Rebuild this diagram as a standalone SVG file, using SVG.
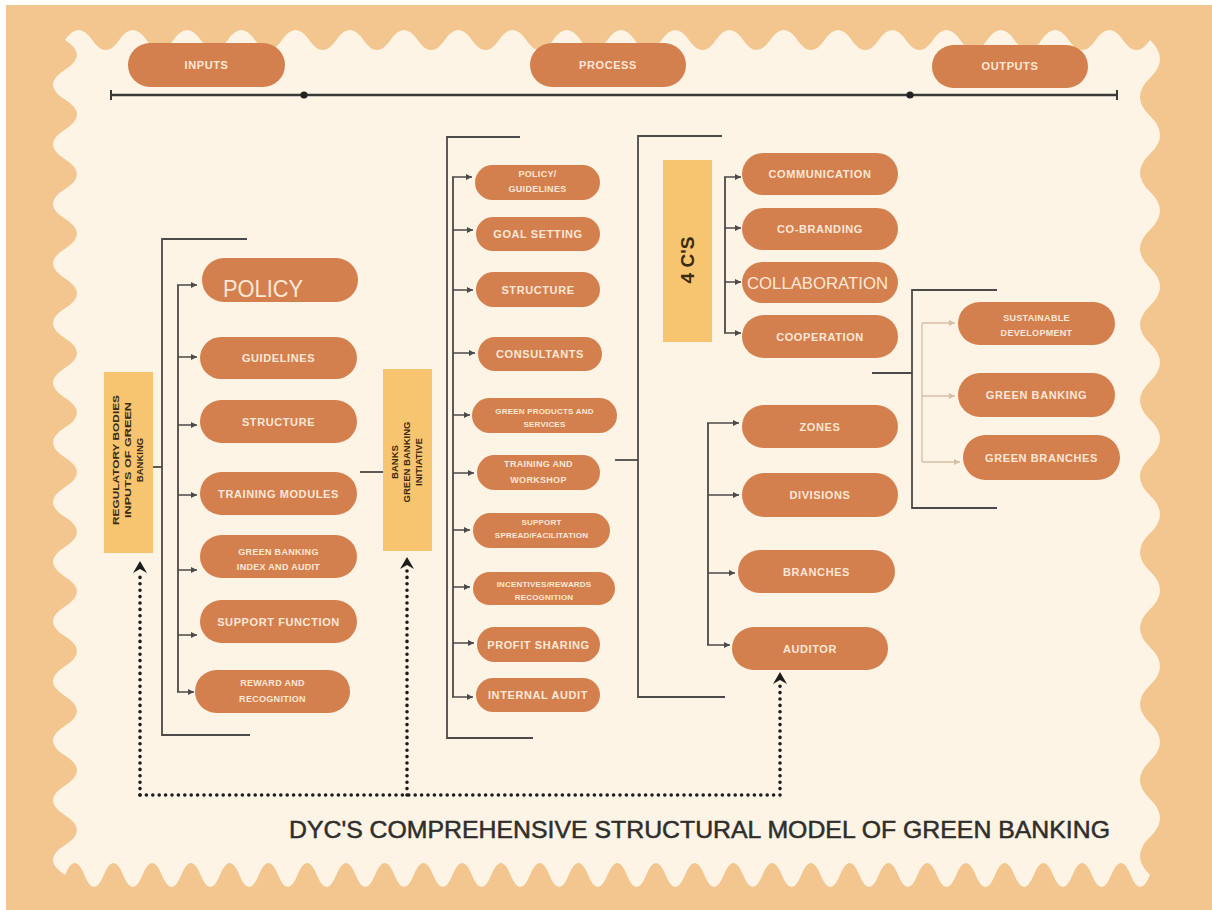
<svg xmlns="http://www.w3.org/2000/svg" width="1212" height="910" viewBox="0 0 1212 910">
  <defs>
    <style>
      .pill{fill:#D3804E}
      .lbl{font-family:"Liberation Sans",Arial,sans-serif;font-weight:bold;fill:#FBE7D6;text-anchor:middle;font-size:11px;letter-spacing:0.6px}
      .sm{font-size:9px;letter-spacing:0.3px}
      .xs{font-size:8px;letter-spacing:0.2px}
      .box{fill:#F7C470}
      .vt{font-family:"Liberation Sans",Arial,sans-serif;font-weight:bold;fill:#3A2A12;text-anchor:middle;font-size:9.5px}
      .big{font-size:19px}
      .conn{stroke:#4A4A48;stroke-width:1.8;fill:none}
      .tick{stroke:#4A4A48;stroke-width:1.5;fill:none;marker-end:url(#tip)}
      .faint{stroke:#D8BFA6;stroke-width:1.3;fill:none}
      .ftick{stroke:#D8BFA6;stroke-width:1.3;fill:none;marker-end:url(#ftip)}
      .dots{stroke:#1C1C1C;stroke-width:3.6;stroke-linecap:round;stroke-dasharray:0 6.4;fill:none}
      .head{fill:#1C1C1C}
    </style>
    <marker id="tip" markerUnits="userSpaceOnUse" markerWidth="6" markerHeight="6" refX="6" refY="3" orient="auto">
      <path d="M0,0 L6,3 L0,6 z" fill="#4A4A48"/>
    </marker>
    <marker id="ftip" markerUnits="userSpaceOnUse" markerWidth="6" markerHeight="6" refX="6" refY="3" orient="auto">
      <path d="M0,0 L6,3 L0,6 z" fill="#D8BFA6"/>
    </marker>
  </defs>

  <!-- frame: orange ground with a scalloped cream sheet on top -->
  <rect x="0" y="0" width="1212" height="910" fill="#FFFFFF"/>
  <rect x="6" y="5" width="1206" height="905" fill="#F2C68E"/>
  <path fill="#FDF4E6" d="M65,40
    q13.56,-20 27.125,0 t27.125,0 t27.125,0 t27.125,0 t27.125,0 t27.125,0 t27.125,0 t27.125,0 t27.125,0 t27.125,0
    t27.125,0 t27.125,0 t27.125,0 t27.125,0 t27.125,0 t27.125,0 t27.125,0 t27.125,0 t27.125,0 t27.125,0
    t27.125,0 t27.125,0 t27.125,0 t27.125,0 t27.125,0 t27.125,0 t27.125,0 t27.125,0 t27.125,0 t27.125,0
    t27.125,0 t27.125,0 t27.125,0 t27.125,0 t27.125,0 t27.125,0 t27.125,0 t27.125,0 t27.125,0 t27.125,0
    q20,18.98 0,37.95 t0,37.95 t0,37.95 t0,37.95 t0,37.95 t0,37.95 t0,37.95 t0,37.95 t0,37.95 t0,37.95 t0,37.95
    t0,37.95 t0,37.95 t0,37.95 t0,37.95 t0,37.95 t0,37.95 t0,37.95 t0,37.95 t0,37.95 t0,37.95 t0,37.95
    q-9.69,24 -19.375,0 t-19.375,0 t-19.375,0 t-19.375,0 t-19.375,0 t-19.375,0 t-19.375,0 t-19.375,0
    t-19.375,0 t-19.375,0 t-19.375,0 t-19.375,0 t-19.375,0 t-19.375,0 t-19.375,0 t-19.375,0
    t-19.375,0 t-19.375,0 t-19.375,0 t-19.375,0 t-19.375,0 t-19.375,0 t-19.375,0 t-19.375,0
    t-19.375,0 t-19.375,0 t-19.375,0 t-19.375,0 t-19.375,0 t-19.375,0 t-19.375,0 t-19.375,0
    t-19.375,0 t-19.375,0 t-19.375,0 t-19.375,0 t-19.375,0 t-19.375,0 t-19.375,0 t-19.375,0
    t-19.375,0 t-19.375,0 t-19.375,0 t-19.375,0 t-19.375,0 t-19.375,0 t-19.375,0 t-19.375,0
    t-19.375,0 t-19.375,0 t-19.375,0 t-19.375,0 t-19.375,0 t-19.375,0 t-19.375,0 t-19.375,0
    q-24,-14.91 0,-29.82 t0,-29.82 t0,-29.82 t0,-29.82 t0,-29.82 t0,-29.82 t0,-29.82
    t0,-29.82 t0,-29.82 t0,-29.82 t0,-29.82 t0,-29.82 t0,-29.82 t0,-29.82
    t0,-29.82 t0,-29.82 t0,-29.82 t0,-29.82 t0,-29.82 t0,-29.82 t0,-29.82
    t0,-29.82 t0,-29.82 t0,-29.82 t0,-29.82 t0,-29.82 t0,-29.82 t0,-29.82 z"/>

  <!-- stage headers and timeline -->
  <g id="inputs"><rect class="pill" x="128" y="43" width="157" height="44" rx="22"/><text class="lbl" x="206.5" y="69">INPUTS</text></g>
  <g id="process"><rect class="pill" x="530" y="43" width="156" height="44" rx="22"/><text class="lbl" x="608" y="69">PROCESS</text></g>
  <g id="outputs"><rect class="pill" x="932" y="45" width="156" height="43" rx="21.5"/><text class="lbl" x="1010" y="70">OUTPUTS</text></g>
  <g id="timeline">
    <line x1="111" y1="95" x2="1117" y2="95" stroke="#3A3A38" stroke-width="2.4"/>
    <line x1="111" y1="90" x2="111" y2="100" stroke="#3A3A38" stroke-width="2"/>
    <line x1="1117" y1="90" x2="1117" y2="100" stroke="#3A3A38" stroke-width="2"/>
    <circle cx="304" cy="95" r="3.6" fill="#222"/>
    <circle cx="910" cy="95" r="3.6" fill="#222"/>
  </g>

  <!-- connectors -->
  <g id="connectors">
    <!-- inputs column -->
    <path class="conn" d="M153,467 H162"/>
    <path class="conn" d="M247,239 H162 V735 H250"/>
    <path class="conn" d="M178,285 V692"/>
    <path class="tick" d="M177,285 H197"/>
    <path class="tick" d="M178,357 H197"/>
    <path class="tick" d="M178,425 H197"/>
    <path class="tick" d="M178,495 H197"/>
    <path class="tick" d="M178,570 H197"/>
    <path class="tick" d="M178,635 H197"/>
    <path class="tick" d="M177,692 H194"/>
    <path class="conn" d="M360,472 H383"/>
    <!-- process column -->
    <path class="conn" d="M520,137 H447 V738 H533"/>
    <path class="conn" d="M453,177 V697"/>
    <path class="tick" d="M452,177 H472"/>
    <path class="tick" d="M453,230 H473"/>
    <path class="tick" d="M453,290 H473"/>
    <path class="tick" d="M453,353 H475"/>
    <path class="tick" d="M453,415 H470"/>
    <path class="tick" d="M453,473 H474"/>
    <path class="tick" d="M453,530 H470"/>
    <path class="tick" d="M453,587 H470"/>
    <path class="tick" d="M453,643 H474"/>
    <path class="tick" d="M452,697 H473"/>
    <path class="conn" d="M615,460 H638"/>
    <!-- 4 C's and delivery network -->
    <path class="conn" d="M722,136 H638 V697 H725"/>
    <path class="conn" d="M725,177 V333"/>
    <path class="tick" d="M724,177 H741"/>
    <path class="tick" d="M725,228 H741"/>
    <path class="tick" d="M725,282 H741"/>
    <path class="tick" d="M724,333 H741"/>
    <path class="conn" d="M708,423 V645"/>
    <path class="tick" d="M707,423 H739"/>
    <path class="tick" d="M708,495 H739"/>
    <path class="tick" d="M708,573 H735"/>
    <path class="tick" d="M707,645 H730"/>
    <!-- outputs -->
    <path class="conn" d="M872,373 H912"/>
    <path class="conn" d="M997,290 H912 V508 H997"/>
    <path class="faint" d="M922,323 V462"/>
    <path class="ftick" d="M922,323 H955"/>
    <path class="ftick" d="M922,396 H955"/>
    <path class="ftick" d="M922,462 H960"/>
    <!-- feedback loop -->
    <path class="dots" d="M140,795 V574"/>
    <path class="dots" d="M407,795 V570"/>
    <path class="dots" d="M780,795 V685"/>
    <path class="dots" d="M140,795 H780"/>
    <path class="head" d="M140,561 L147,573 L140,569 L133,573 z"/>
    <path class="head" d="M407,557 L414,569 L407,565 L400,569 z"/>
    <path class="head" d="M780,672 L787,684 L780,680 L773,684 z"/>
  </g>

  <!-- inputs column -->
  <g id="regulatory-bodies">
    <rect class="box" x="104" y="372" width="49" height="181"/>
    <g transform="translate(128.5,460) rotate(-90)">
      <text class="vt" x="0" y="-10" textLength="130" lengthAdjust="spacingAndGlyphs">REGULATORY BODIES</text>
      <text class="vt" x="0" y="2" textLength="116" lengthAdjust="spacingAndGlyphs">INPUTS OF GREEN</text>
      <text class="vt" x="0" y="14">BANKING</text>
    </g>
  </g>
  <g id="policy"><rect class="pill" x="202" y="258" width="156" height="44" rx="22"/><text x="223" y="297" font-family="Liberation Sans, Arial, sans-serif" font-size="24" fill="#FBE7D6" textLength="80" lengthAdjust="spacingAndGlyphs">POLICY</text></g>
  <g id="guidelines"><rect class="pill" x="200" y="337" width="157" height="42" rx="21"/><text class="lbl" x="278.5" y="362">GUIDELINES</text></g>
  <g id="structure-in"><rect class="pill" x="200" y="400" width="157" height="43" rx="21.5"/><text class="lbl" x="278.5" y="425.5">STRUCTURE</text></g>
  <g id="training-modules"><rect class="pill" x="200" y="472" width="157" height="43" rx="21.5"/><text class="lbl" x="278.5" y="497.5">TRAINING MODULES</text></g>
  <g id="index-audit"><rect class="pill" x="200" y="535" width="157" height="43" rx="21.5"/><text class="lbl sm" x="278.5" y="554.5">GREEN BANKING</text><text class="lbl sm" x="278.5" y="569.5">INDEX AND AUDIT</text></g>
  <g id="support-function"><rect class="pill" x="200" y="600" width="157" height="43" rx="21.5"/><text class="lbl" x="278.5" y="625.5">SUPPORT FUNCTION</text></g>
  <g id="reward-recognition"><rect class="pill" x="195" y="670" width="155" height="43" rx="21.5"/><text class="lbl sm" x="272.5" y="686">REWARD AND</text><text class="lbl sm" x="272.5" y="702">RECOGNITION</text></g>

  <!-- process column -->
  <g id="banks-initiative">
    <rect class="box" x="383" y="369" width="49" height="182"/>
    <g transform="translate(407.5,462) rotate(-90)">
      <text class="vt" x="0" y="-10">BANKS</text>
      <text class="vt" x="0" y="2">GREEN BANKING</text>
      <text class="vt" x="0" y="14">INITIATIVE</text>
    </g>
  </g>
  <g id="policy-guidelines"><rect class="pill" x="475" y="165" width="125" height="35" rx="17.5"/><text class="lbl sm" x="537.5" y="176.5">POLICY/</text><text class="lbl sm" x="537.5" y="192">GUIDELINES</text></g>
  <g id="goal-setting"><rect class="pill" x="476" y="217" width="124" height="34" rx="17"/><text class="lbl" x="538" y="238">GOAL SETTING</text></g>
  <g id="structure-proc"><rect class="pill" x="476" y="272" width="124" height="35" rx="17.5"/><text class="lbl" x="538" y="293.5">STRUCTURE</text></g>
  <g id="consultants"><rect class="pill" x="478" y="337" width="124" height="34" rx="17"/><text class="lbl" x="540" y="358">CONSULTANTS</text></g>
  <g id="green-products"><rect class="pill" x="472" y="398" width="145" height="35" rx="17.5"/><text class="lbl xs" x="544.5" y="414">GREEN PRODUCTS AND</text><text class="lbl xs" x="544.5" y="427">SERVICES</text></g>
  <g id="training-workshop"><rect class="pill" x="477" y="455" width="123" height="35" rx="17.5"/><text class="lbl sm" x="538.5" y="467">TRAINING AND</text><text class="lbl sm" x="538.5" y="483">WORKSHOP</text></g>
  <g id="support-spread"><rect class="pill" x="473" y="513" width="137" height="35" rx="17.5"/><text class="lbl xs" x="541.5" y="525">SUPPORT</text><text class="lbl xs" x="541.5" y="538">SPREAD/FACILITATION</text></g>
  <g id="incentives"><rect class="pill" x="473" y="572" width="142" height="33" rx="16.5"/><text class="lbl xs" x="544" y="587">INCENTIVES/REWARDS</text><text class="lbl xs" x="544" y="600">RECOGNITION</text></g>
  <g id="profit-sharing"><rect class="pill" x="477" y="627" width="123" height="35" rx="17.5"/><text class="lbl" x="538.5" y="648.5">PROFIT SHARING</text></g>
  <g id="internal-audit"><rect class="pill" x="476" y="678" width="124" height="34" rx="17"/><text class="lbl" x="538" y="699">INTERNAL AUDIT</text></g>

  <!-- 4 C's -->
  <g id="four-cs">
    <rect class="box" x="663" y="160" width="49" height="182"/>
    <text class="vt big" x="0" y="0" transform="translate(693.5,260) rotate(-90)">4 C'S</text>
  </g>
  <g id="communication"><rect class="pill" x="742" y="153" width="156" height="42" rx="21"/><text class="lbl" x="820" y="178">COMMUNICATION</text></g>
  <g id="co-branding"><rect class="pill" x="742" y="208" width="156" height="42" rx="21"/><text class="lbl" x="820" y="233">CO-BRANDING</text></g>
  <g id="collaboration"><rect class="pill" x="742" y="262" width="156" height="41" rx="20.5"/><text x="817.5" y="289" text-anchor="middle" font-family="Liberation Sans, Arial, sans-serif" font-size="17" fill="#FBE7D6" textLength="141" lengthAdjust="spacingAndGlyphs">COLLABORATION</text></g>
  <g id="cooperation"><rect class="pill" x="742" y="315" width="156" height="43" rx="21.5"/><text class="lbl" x="820" y="340.5">COOPERATION</text></g>

  <!-- delivery network -->
  <g id="zones"><rect class="pill" x="742" y="405" width="156" height="43" rx="21.5"/><text class="lbl" x="820" y="430.5">ZONES</text></g>
  <g id="divisions"><rect class="pill" x="742" y="473" width="156" height="44" rx="22"/><text class="lbl" x="820" y="499">DIVISIONS</text></g>
  <g id="branches"><rect class="pill" x="738" y="550" width="157" height="43" rx="21.5"/><text class="lbl" x="816.5" y="575.5">BRANCHES</text></g>
  <g id="auditor"><rect class="pill" x="732" y="627" width="156" height="43" rx="21.5"/><text class="lbl" x="810" y="652.5">AUDITOR</text></g>

  <!-- outputs -->
  <g id="sustainable-development"><rect class="pill" x="958" y="302" width="157" height="43" rx="21.5"/><text class="lbl sm" x="1036.5" y="321">SUSTAINABLE</text><text class="lbl sm" x="1036.5" y="336">DEVELOPMENT</text></g>
  <g id="green-banking"><rect class="pill" x="958" y="373" width="157" height="44" rx="22"/><text class="lbl" x="1036.5" y="399">GREEN BANKING</text></g>
  <g id="green-branches"><rect class="pill" x="963" y="435" width="157" height="45" rx="22.5"/><text class="lbl" x="1041.5" y="461.5">GREEN BRANCHES</text></g>

  <!-- title -->
  <g id="title">
    <text x="289" y="838" font-family="Liberation Sans, Arial, sans-serif" font-size="24" fill="#2E2E2C" stroke="#2E2E2C" stroke-width="0.5" textLength="821" lengthAdjust="spacingAndGlyphs">DYC'S COMPREHENSIVE STRUCTURAL MODEL OF GREEN BANKING</text>
  </g>
</svg>
